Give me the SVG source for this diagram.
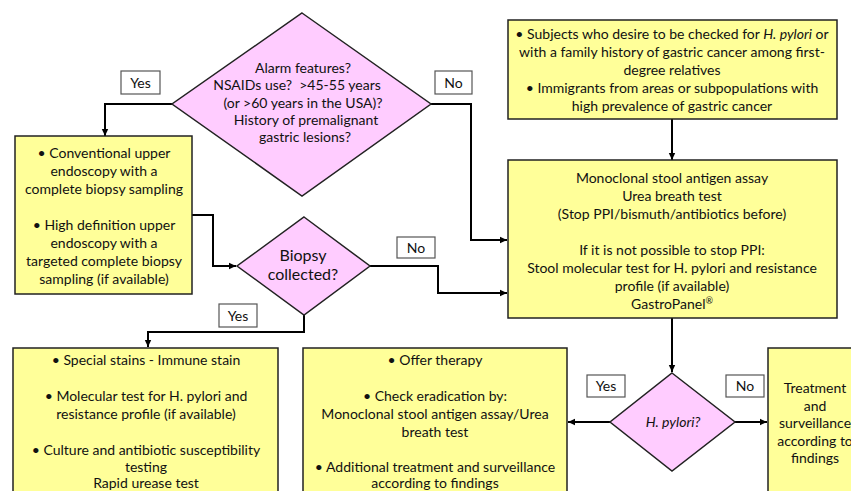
<svg xmlns="http://www.w3.org/2000/svg" width="851" height="491" viewBox="0 0 851 491">
<style>
.box{fill:#FFFF99;stroke:#222;stroke-width:1.5}
.dia{fill:#FFCCFF;stroke:#222;stroke-width:1.5}
.lbl{fill:#fff;stroke:#555;stroke-width:1.2}
.con{fill:none;stroke:#000;stroke-width:2;marker-end:url(#arr)}
text{font-family:Lato,"Liberation Sans",sans-serif;font-size:14px;fill:#111;text-anchor:middle}
.big{font-size:16px}
</style>
<defs>
<marker id="arr" markerUnits="userSpaceOnUse" markerWidth="8" markerHeight="8" refX="7" refY="4" orient="auto">
<path d="M0,0.8 L7,4 L0,7.2 Z" fill="#000"/>
</marker>
</defs>
<rect width="851" height="491" fill="#fff"/>
<g id="connectors">
<path class="con" d="M172,104 H105 V136"/>
<path class="con" d="M431,104 H471 V240 H507"/>
<path class="con" d="M672,119 V160"/>
<path class="con" d="M192,215 H213 V266 H236"/>
<path class="con" d="M369,266 H438 V293 H507"/>
<path class="con" d="M304,314 V332 H148 V347"/>
<path class="con" d="M672,318 V372"/>
<path class="con" d="M610,422 H568"/>
<path class="con" d="M735,422 H767"/>
</g>
<g id="alarm">
<polygon class="dia" points="302,13 431,104 302,196 172,104"/>
<text x="303" y="73">Alarm features?</text>
<text x="297" y="90">NSAIDs use?&#160; &gt;45-55 years</text>
<text x="303" y="108">(or &gt;60 years in the USA)?</text>
<text x="306" y="125">History of premalignant</text>
<text x="305" y="142">gastric lesions?</text>
</g>
<g id="label-yes1"><rect class="lbl" x="121" y="71" width="39" height="23"/><text x="140.5" y="88">Yes</text></g>
<g id="label-no1"><rect class="lbl" x="435" y="71" width="37" height="23"/><text x="453.5" y="88">No</text></g>
<g id="subjects">
<rect class="box" x="508" y="20" width="329" height="99"/>
<text x="672" y="39">• Subjects who desire to be checked for <tspan font-style="italic">H. pylori</tspan> or</text>
<text x="672" y="57">with a family history of gastric cancer among first-</text>
<text x="672" y="75">degree relatives</text>
<text x="672" y="93">• Immigrants from areas or subpopulations with</text>
<text x="672" y="111">high prevalence of gastric cancer</text>
</g>
<g id="endoscopy">
<rect class="box" x="15" y="136" width="177" height="158"/>
<text x="104" y="158">• Conventional upper</text>
<text x="104" y="176">endoscopy with a</text>
<text x="104" y="194">complete biopsy sampling</text>
<text x="104" y="230">• High definition upper</text>
<text x="104" y="248">endoscopy with a</text>
<text x="104" y="266">targeted complete biopsy</text>
<text x="104" y="284">sampling (if available)</text>
</g>
<g id="tests">
<rect class="box" x="508" y="160" width="329" height="158"/>
<text x="672" y="183">Monoclonal stool antigen assay</text>
<text x="672" y="201">Urea breath test</text>
<text x="672" y="219">(Stop PPI/bismuth/antibiotics before)</text>
<text x="672" y="255">If it is not possible to stop PPI:</text>
<text x="672" y="273">Stool molecular test for H. pylori and resistance</text>
<text x="672" y="291">profile (if available)</text>
<text x="672" y="309">GastroPanel<tspan font-size="9" dy="-5">®</tspan></text>
</g>
<g id="biopsy">
<polygon class="dia" points="304,217 370,266 304,315 237,266"/>
<text class="big" x="303" y="261">Biopsy</text>
<text class="big" x="303" y="280">collected?</text>
</g>
<g id="label-no2"><rect class="lbl" x="397" y="237" width="38" height="21"/><text x="416" y="253">No</text></g>
<g id="label-yes2"><rect class="lbl" x="219" y="304" width="38" height="23"/><text x="238" y="321">Yes</text></g>
<g id="histology">
<rect class="box" x="13" y="348" width="265" height="150"/>
<text x="146" y="365">• Special stains - Immune stain</text>
<text x="146" y="401">• Molecular test for H. pylori and</text>
<text x="146" y="419">resistance profile (if available)</text>
<text x="146" y="455">• Culture and antibiotic susceptibility</text>
<text x="146" y="472">testing</text>
<text x="146" y="488">Rapid urease test</text>
</g>
<g id="therapy">
<rect class="box" x="303" y="348" width="264" height="150"/>
<text x="435" y="365">• Offer therapy</text>
<text x="435" y="401">• Check eradication by:</text>
<text x="435" y="419">Monoclonal stool antigen assay/Urea</text>
<text x="435" y="437">breath test</text>
<text x="435" y="472">• Additional treatment and surveillance</text>
<text x="435" y="488">according to findings</text>
</g>
<g id="hpylori">
<polygon class="dia" points="672,373 735,422 672,471 610,422"/>
<text x="673" y="427" font-style="italic">H. pylori?</text>
</g>
<g id="label-yes3"><rect class="lbl" x="587" y="375" width="38" height="22"/><text x="606" y="391">Yes</text></g>
<g id="label-no3"><rect class="lbl" x="726" y="375" width="38" height="22"/><text x="745" y="391">No</text></g>
<g id="treatment">
<rect class="box" x="768" y="348" width="100" height="150"/>
<text x="815" y="393">Treatment</text>
<text x="815" y="411">and</text>
<text x="815" y="428">surveillance</text>
<text x="815" y="446">according to</text>
<text x="815" y="463">findings</text>
</g>
</svg>
